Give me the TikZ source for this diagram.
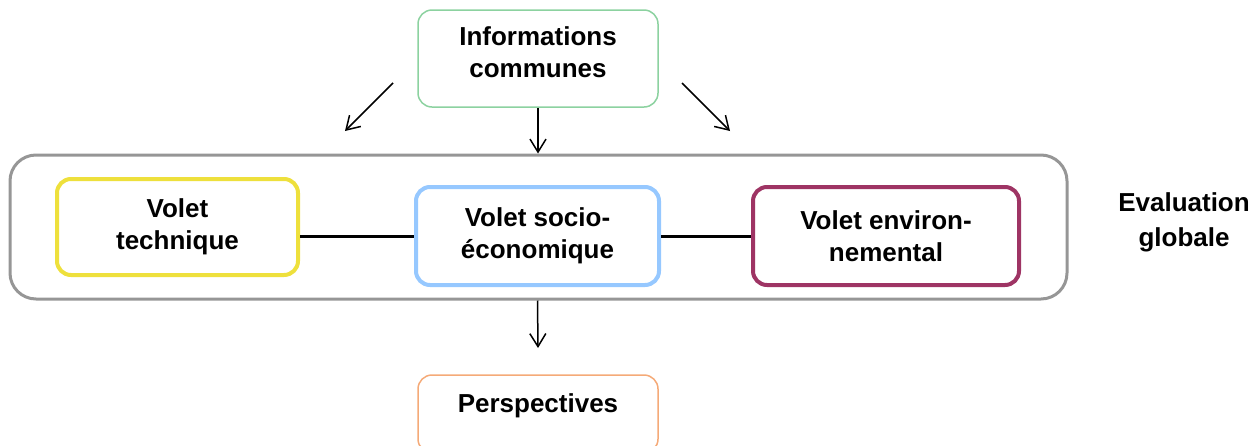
\documentclass[tikz,border=0pt]{standalone}
\usepackage{fontspec}
\setmainfont{Liberation Sans}
\usetikzlibrary{arrows.meta}
\definecolor{cgreen}{RGB}{140,210,160}
\definecolor{cgray}{RGB}{150,150,150}
\definecolor{cyellow}{RGB}{238,224,60}
\definecolor{cblue}{RGB}{150,200,255}
\definecolor{cpurple}{RGB}{158,52,100}
\definecolor{corange}{RGB}{245,170,120}
\tikzset{
  txt/.style={align=center, inner sep=0pt, font=\fontsize{26}{32}\selectfont\bfseries},
  box/.style={txt, draw, rounded corners=14pt, fill=white},
  thinbox/.style={box, line width=1.5pt},
  thickbox/.style={box, line width=4pt},
  arr/.style={line width=1.5pt, -{Straight Barb[length=13pt,width=16pt,line width=1.5pt]}},
  link/.style={line width=3pt}
}
\begin{document}
\begin{tikzpicture}[x=1pt,y=-1pt]
\useasboundingbox (0,0) rectangle (1260,445);
\clip (0,0) rectangle (1260,445);
\node[draw=cgray, line width=3pt, rounded corners=26pt, minimum width=1057pt, minimum height=144pt, inner sep=0pt] (outer) at (538.5,227) {};
\node[thinbox, draw=cgreen, minimum width=240pt, minimum height=97pt] (info) at (538,58.5) {};
\node[txt] (infot) at (538,52) {Informations\\communes};
\node[thickbox, draw=cyellow, minimum width=241pt, minimum height=96pt] (tech) at (177.5,227) {Volet\\technique};
\node[thickbox, draw=cblue, minimum width=243pt, minimum height=98pt] (socio) at (537.5,236) {Volet socio-\\économique};
\node[thickbox, draw=cpurple, minimum width=266pt, minimum height=98pt] (env) at (886,236) {Volet environ-\\nemental};
\node[thinbox, draw=corange, minimum width=240pt, minimum height=78pt] (persp) at (538,414) {};
\node[txt] (perspt) at (538,406) {Perspectives};
\node[txt, font=\fontsize{26}{35}\selectfont\bfseries] (eval) at (1184,222) {Evaluation\\globale};
\coordinate (l1) at (393,83);
\coordinate (l2) at (345,131);
\coordinate (r1) at (682,83);
\coordinate (r2) at (730,131);
\coordinate (pend) at (538,348);
\draw[arr] (l1) -- (l2);
\draw[arr] (r1) -- (r2);
\draw[arr] (info.south) -- (outer.north -| info.south);
\draw[arr] (outer.south -| socio.south) -- (pend);
\draw[link] (tech.east |- socio.west) -- (socio.west);
\draw[link] (socio.east |- env.west) -- (env.west);
\end{tikzpicture}
\end{document}
